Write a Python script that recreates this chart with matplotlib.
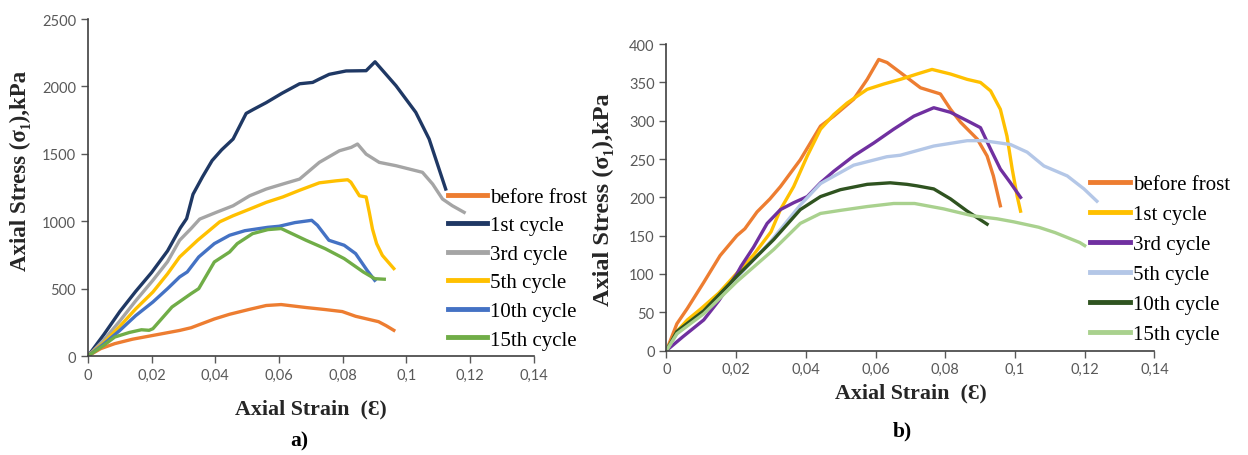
import matplotlib
matplotlib.use("Agg")
import matplotlib.pyplot as plt

# ---- panel a) data ----
a_before_x = [0, 0.004, 0.0084, 0.014, 0.0204, 0.0288, 0.0324, 0.0397, 0.0445, 0.0505, 0.056, 0.0607, 0.0685, 0.0745, 0.0799, 0.0841, 0.0913, 0.0937, 0.0961]
a_before_y = [0, 55, 92, 125, 153, 190, 210, 275, 310, 345, 375, 382, 360, 345, 330, 295, 255, 225, 191]
a_c1_x = [0, 0.005, 0.01, 0.015, 0.02, 0.025, 0.029, 0.031, 0.033, 0.036, 0.039, 0.042, 0.0456, 0.0497, 0.052, 0.056, 0.061, 0.0665, 0.0706, 0.0727, 0.0758, 0.0811, 0.0874, 0.0902, 0.0968, 0.103, 0.1072, 0.1124]
a_c1_y = [0, 160, 330, 480, 620, 780, 950, 1020, 1200, 1330, 1450, 1530, 1610, 1800, 1830, 1880, 1950, 2020, 2030, 2055, 2090, 2115, 2117, 2183, 2005, 1808, 1610, 1239]
a_c3_x = [0, 0.005, 0.01, 0.015, 0.0204, 0.025, 0.0288, 0.0324, 0.0351, 0.0403, 0.0456, 0.0508, 0.056, 0.0612, 0.0665, 0.0727, 0.079, 0.0827, 0.0847, 0.0874, 0.0915, 0.0968, 0.1051, 0.1083, 0.1114, 0.1145, 0.1182]
a_c3_y = [0, 120, 260, 410, 562, 700, 859, 946, 1016, 1066, 1115, 1189, 1239, 1276, 1313, 1437, 1523, 1548, 1573, 1498, 1437, 1412, 1363, 1276, 1165, 1115, 1066]
a_c5_x = [0, 0.005, 0.01, 0.015, 0.0204, 0.025, 0.0288, 0.0345, 0.0414, 0.0456, 0.0508, 0.056, 0.0612, 0.0665, 0.0727, 0.078, 0.0816, 0.0826, 0.0853, 0.0874, 0.0884, 0.0894, 0.0907, 0.0925, 0.0961]
a_c5_y = [0, 100, 220, 350, 475, 610, 735, 860, 996, 1041, 1090, 1140, 1180, 1230, 1285, 1300, 1308, 1290, 1189, 1180, 1066, 942, 834, 747, 649]
a_c10_x = [0, 0.005, 0.01, 0.015, 0.0204, 0.025, 0.0288, 0.0312, 0.0348, 0.0397, 0.0445, 0.0493, 0.0565, 0.0601, 0.065, 0.0703, 0.0721, 0.0757, 0.0805, 0.0841, 0.0877, 0.0901]
a_c10_y = [0, 90, 190, 300, 401, 500, 587, 624, 735, 834, 896, 930, 955, 963, 990, 1007, 970, 859, 822, 760, 636, 562]
a_c15_x = [0, 0.005, 0.0084, 0.013, 0.0168, 0.0192, 0.0204, 0.0264, 0.0324, 0.0348, 0.0397, 0.0445, 0.0469, 0.0517, 0.0565, 0.0607, 0.0685, 0.0745, 0.0805, 0.0865, 0.0901, 0.0931]
a_c15_y = [0, 80, 141, 175, 195, 191, 203, 364, 463, 500, 698, 772, 834, 908, 938, 946, 859, 797, 723, 624, 574, 570]

# ---- panel b) data ----
b_before_x = [0, 0.003, 0.006, 0.0107, 0.0154, 0.0202, 0.0225, 0.026, 0.0297, 0.0327, 0.0384, 0.0442, 0.048, 0.0537, 0.0576, 0.0609, 0.0633, 0.0671, 0.0729, 0.0786, 0.0815, 0.0844, 0.0892, 0.092, 0.0938, 0.0958]
b_before_y = [0, 35, 55, 89, 124, 150, 159, 181, 198, 214, 249, 293, 306, 328, 354, 380, 376, 363, 343, 335, 315, 298, 276, 254, 228, 189]
b_c1_x = [0, 0.003, 0.006, 0.01, 0.015, 0.02, 0.025, 0.03, 0.0327, 0.0365, 0.0404, 0.0442, 0.048, 0.0518, 0.0576, 0.0624, 0.0671, 0.0719, 0.0762, 0.0815, 0.0863, 0.0901, 0.093, 0.0958, 0.0977, 0.0992, 0.1006, 0.1016]
b_c1_y = [0, 25, 40, 55, 75, 100, 125, 155, 184, 214, 254, 289, 308, 323, 341, 348, 354, 361, 367, 361, 354, 350, 339, 315, 280, 237, 202, 182]
b_c3_x = [0, 0.0047, 0.0107, 0.015, 0.0202, 0.0214, 0.025, 0.0289, 0.0327, 0.0365, 0.0404, 0.0442, 0.048, 0.0537, 0.0595, 0.0652, 0.071, 0.0767, 0.0815, 0.0863, 0.0901, 0.093, 0.0958, 0.0987, 0.1016]
b_c3_y = [0, 18, 40, 65, 100, 110, 135, 166, 184, 193, 201, 219, 234, 254, 271, 289, 306, 317, 311, 300, 291, 263, 237, 219, 200]
b_c5_x = [0, 0.003, 0.0107, 0.0202, 0.03, 0.0384, 0.0442, 0.0537, 0.0632, 0.0671, 0.0767, 0.0863, 0.091, 0.0987, 0.1035, 0.1083, 0.115, 0.1198, 0.1235]
b_c5_y = [0, 22, 50, 95, 143, 190, 218, 242, 253, 255, 267, 274, 274, 269, 259, 241, 228, 211, 195]
b_c10_x = [0, 0.003, 0.0107, 0.0202, 0.0308, 0.0384, 0.0442, 0.0499, 0.0576, 0.0642, 0.069, 0.0719, 0.0767, 0.0815, 0.0863, 0.092]
b_c10_y = [0, 25, 52, 97, 145, 184, 201, 210, 217, 219, 217, 215, 211, 198, 182, 165]
b_c15_x = [0, 0.003, 0.0107, 0.0202, 0.0308, 0.0384, 0.0442, 0.0499, 0.0576, 0.0652, 0.0712, 0.0795, 0.0878, 0.0949, 0.0997, 0.1068, 0.1115, 0.1186, 0.12]
b_c15_y = [0, 22, 48, 90, 132, 166, 179, 183, 188, 192, 192, 185, 176, 172, 168, 161, 154, 141, 137]

labels = ["before frost", "1st cycle", "3rd cycle", "5th cycle", "10th cycle", "15th cycle"]
a_colors = ["#ED7D31", "#1F3864", "#A5A5A5", "#FFC000", "#4472C4", "#70AD47"]
b_colors = ["#ED7D31", "#FFC000", "#7030A0", "#B4C7E7", "#2F5320", "#A9D18E"]

x_ticks = [0, 0.02, 0.04, 0.06, 0.08, 0.1, 0.12, 0.14]
x_ticklabels = ["0", "0,02", "0,04", "0,06", "0,08", "0,1", "0,12", "0,14"]
a_yticks = [0, 500, 1000, 1500, 2000, 2500]
b_yticks = [0, 50, 100, 150, 200, 250, 300, 350, 400]

serif = ["Liberation Serif", "DejaVu Serif"]
tick_font = "Lato"

fig = plt.figure(figsize=(12.48, 4.56), dpi=100)
ax_a = fig.add_axes([0.0705, 0.217, 0.357, 0.739])
ax_b = fig.add_axes([0.534, 0.229, 0.391, 0.672])

a_series = [(a_before_x, a_before_y), (a_c1_x, a_c1_y), (a_c3_x, a_c3_y),
            (a_c5_x, a_c5_y), (a_c10_x, a_c10_y), (a_c15_x, a_c15_y)]
b_series = [(b_before_x, b_before_y), (b_c1_x, b_c1_y), (b_c3_x, b_c3_y),
            (b_c5_x, b_c5_y), (b_c10_x, b_c10_y), (b_c15_x, b_c15_y)]

# per panel: series, colours, y ticks, legend anchor, label spacing,
# x-label pos, y-label pos, y-label size
panels = [
    (ax_a, a_series, a_colors, a_yticks, (0.807, 0.26), 0.43, (0.5, -0.157), (-0.152, 0.552), 16.5),
    (ax_b, b_series, b_colors, b_yticks, (0.869, 0.298), 0.5, (0.5, -0.136), (-0.129, 0.497), 17.5),
]

for ax, series, colors, yticks, leg_pos, spacing, xl_pos, yl_pos, yl_size in panels:
    for (x, y), c, lab in zip(series, colors, labels):
        ax.plot(x, y, color=c, lw=2.4, label=lab, solid_joinstyle="round")
    ax.set_xlim(0, 0.14)
    ax.set_ylim(0, yticks[-1])
    ax.set_xticks(x_ticks)
    ax.set_xticklabels(x_ticklabels)
    ax.set_yticks(yticks)
    for s in ["top", "right"]:
        ax.spines[s].set_visible(False)
    for s in ["left", "bottom"]:
        ax.spines[s].set_color("#404040")
        ax.spines[s].set_linewidth(1.2)
    ax.tick_params(colors="#595959", labelsize=10.5, length=5, width=1.0)
    for t in ax.get_xticklabels() + ax.get_yticklabels():
        t.set_fontfamily(tick_font)
    ax.set_xlabel("Axial Strain  (Ɛ)", family=serif, fontweight="bold", fontsize=15.8,
                  color="#262626", va="center")
    ax.set_ylabel("Axial Stress (σ₁),kPa", family=serif, fontweight="bold", fontsize=yl_size,
                  color="#262626", va="center")
    ax.xaxis.set_label_coords(*xl_pos)
    ax.yaxis.set_label_coords(*yl_pos)
    leg = ax.legend(loc="center left", bbox_to_anchor=leg_pos, frameon=False,
                    prop={"family": serif, "size": 15}, handlelength=1.9,
                    handletextpad=0.15, labelspacing=spacing, borderaxespad=0,
                    borderpad=0)
    for line in leg.get_lines():
        line.set_linewidth(3.5)

fig.text(0.240, 0.031, "a)", family=serif, fontweight="bold", fontsize=15.5,
         ha="center", va="center")
fig.text(0.723, 0.053, "b)", family=serif, fontweight="bold", fontsize=15.5,
         ha="center", va="center")

fig.savefig("out.png", dpi=100)
